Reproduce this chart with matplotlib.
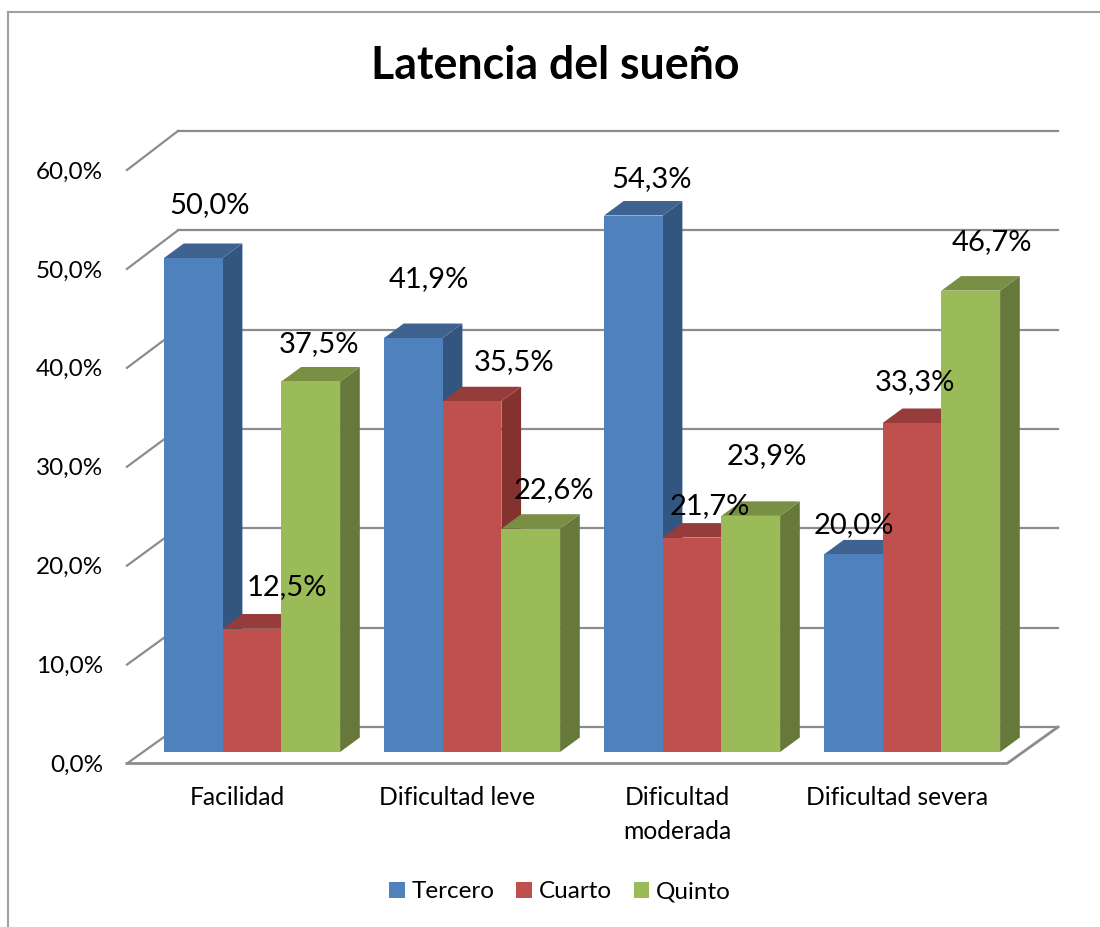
import matplotlib
matplotlib.use("Agg")
import matplotlib.pyplot as plt
from matplotlib.patches import Polygon, Patch
from matplotlib.lines import Line2D

categories = ["Facilidad", "Dificultad leve", "Dificultad\nmoderada", "Dificultad severa"]
series_names = ["Tercero", "Cuarto", "Quinto"]
tercero = [50.0, 41.9, 54.3, 20.0]
cuarto = [12.5, 35.5, 21.7, 33.3]
quinto = [37.5, 22.6, 23.9, 46.7]
y_ticks = [0, 10, 20, 30, 40, 50, 60]

# front, top, side
colors = [("#4F81BD", "#3E6391", "#335680"),
          ("#C0504D", "#963C3A", "#843230"),
          ("#9BBB59", "#788F44", "#66793A")]

# label offsets from the bar top centre, in pixels, one row per series
label_offsets = [[(16, 53), (16, 59), (18, 36), (0, 29)],
                 [(35, 41), (42, 39), (18, 32), (3, 41)],
                 [(8, 37), (23, 39), (16, 60), (21, 49)]]

plt.rcParams["font.family"] = ["Lato", "DejaVu Sans"]
W, H = 1100, 927
fig = plt.figure(figsize=(W / 100, H / 100), dpi=100)
ax = fig.add_axes([127 / W, 1 - 763.5 / H, 880 / W, 593.5 / H])
ax.set_xlim(0, 4)
ax.set_ylim(0, 60)
for s in ax.spines.values():
    s.set_visible(False)

px_x = 4 / 880
px_y = 60 / 593.5
grid_col = "#8C8C8C"

# walls: left diagonals and back lines
back_dx = 51 * px_x
back_dy = 36.5 * px_y
for v in y_ticks:
    bx = back_dx
    by = back_dy + v * 1.0043
    ax.plot([0, bx], [v, by], color=grid_col, lw=1.6, clip_on=False, zorder=1)
    ax.plot([bx, 4 + back_dx], [by, by], color=grid_col, lw=1.6, clip_on=False, zorder=1)
# floor front and right edge
ax.plot([0, 4, 4 + back_dx], [0, 0, back_dy], color=grid_col, lw=2, clip_on=False, zorder=1)

# bars
bar_w = 58.7 * px_x
start = 37 * px_x
base = 11.5 * px_y
dep_x = 19.7 * px_x
dep_y = 14.5 * px_y
z = 2
for s, vals in enumerate([tercero, cuarto, quinto]):
    front, top, side = colors[s]
    for i, v in enumerate(vals):
        x0 = i + start + s * bar_w
        x1 = x0 + bar_w
        y0 = base
        y1 = base + v * (9.88 * px_y)
        ax.add_patch(Polygon([(x1, y0), (x1 + dep_x, y0 + dep_y), (x1 + dep_x, y1 + dep_y), (x1, y1)],
                             fc=side, ec="none", zorder=z, clip_on=False))
        ax.add_patch(Polygon([(x0, y1), (x1, y1), (x1 + dep_x, y1 + dep_y), (x0 + dep_x, y1 + dep_y)],
                             fc=top, ec="none", zorder=z, clip_on=False))
        ax.add_patch(Polygon([(x0, y0), (x1, y0), (x1, y1), (x0, y1)],
                             fc=front, ec="none", zorder=z + 0.1, clip_on=False))
        dx, dy = label_offsets[s][i]
        ax.annotate(f"{v:.1f}".replace(".", ",") + "%", xy=((x0 + x1) / 2, y1),
                    xytext=(dx, dy), textcoords="offset pixels", ha="center", va="center",
                    fontsize=21, color="black", zorder=10, annotation_clip=False)
    z += 1

ax.set_yticks(y_ticks)
ax.set_yticklabels([f"{v:.1f}".replace(".", ",") + "%" for v in y_ticks], fontsize=17.5)
ax.set_xticks([0.5, 1.5, 2.5, 3.5])
ax.set_xticklabels(categories, fontsize=17.7, linespacing=1.55)
ax.tick_params(axis="both", length=0, colors="black")
ax.tick_params(axis="y", pad=17.3)
ax.tick_params(axis="x", pad=16.5)

fig.text(555 / W, 1 - 66 / H, "Latencia del sueño", fontsize=32.1, fontweight="bold",
         ha="center", va="center")

handles = [Patch(fc=c[0], ec="none") for c in colors]
fig.legend(handles, series_names, loc="center", bbox_to_anchor=(560 / W, 1 - 892 / H),
           ncol=3, frameon=False, fontsize=17.5, handlelength=0.62, handleheight=0.62,
           handletextpad=0.29, columnspacing=0.9)

# chart frame
fig.add_artist(Line2D([8 / W, 8 / W], [0, 1 - 12 / H], color="#A0A0A0", lw=1.5))
fig.add_artist(Line2D([8 / W, 1], [1 - 12 / H, 1 - 12 / H], color="#A0A0A0", lw=1.5))

fig.savefig("out.png", dpi=100)
